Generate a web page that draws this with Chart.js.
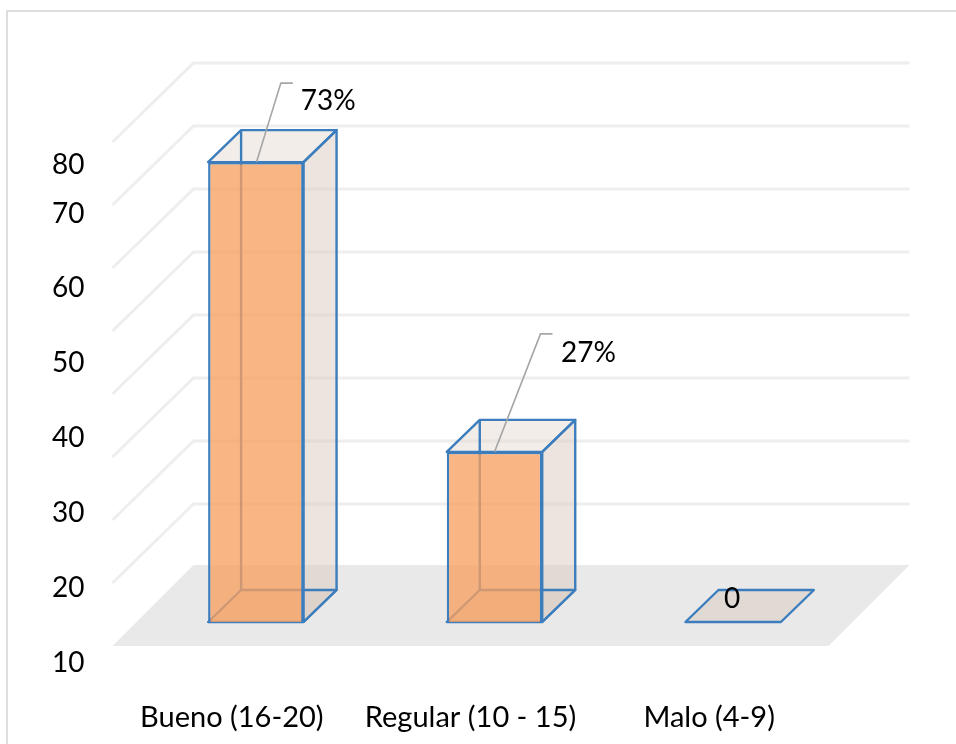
<!DOCTYPE html>
<html>
<head>
<meta charset="utf-8">
<script src="https://cdn.jsdelivr.net/npm/chart.js@4"></script>
<style>
  html, body { margin: 0; padding: 0; background: #fff; overflow: hidden; }
  #wrap { position: relative; width: 956px; height: 744px; overflow: hidden; }
  #frame { position: absolute; left: 6px; top: 10px; width: 950px; height: 734px; border-left: 2px solid #dedede; border-top: 2px solid #dedede; box-sizing: border-box; }
  canvas { position: absolute; left: 0; top: 0; }
</style>
</head>
<body>
<div id="wrap">
  <div id="frame"></div>
  <canvas id="chart" width="956" height="744"></canvas>
</div>
<script>
// Series and axis text
const categories = ['Bueno (16-20)', 'Regular (10 - 15)', 'Malo (4-9)'];
const values = [73, 27, 0];
const valueLabels = ['73%', '27%', '0'];
const tickLabels = ['10', '20', '30', '40', '50', '60', '70', '80'];
const gridValues = [10, 20, 30, 40, 50, 60, 70, 80];

// Axis ticks sit on their own scale, spaced unevenly at the top
const tickStops = [10, 20, 30, 40, 50, 60, 69.8, 76.4];

// Perspective offsets in pixels, relative to the plane of the bars' front faces
const WALL = { dx: 57, dy: -55 };
const FLOOR_BACK = { dx: 57, dy: -57 };
const FRONT = { dx: -24, dy: 24 };
const DEPTH = { dx: 33, dy: -32 };

// Value label placement relative to each bar's top centre
const callouts = [
  { lead: [0.7, 0, 25, -79, 37, -79], text: [72.5, -61] },
  { lead: [0, 0, 46, -118, 58, -118], text: [94, -99] },
  { lead: null, text: [-1, -23] }
];

const FONT = 'Lato, Carlito, sans-serif';
const BLUE = '#3c7dbd';
const EDGE = 2.4;

function poly(ctx, pts) {
  ctx.beginPath();
  pts.forEach((p, i) => (i ? ctx.lineTo(p[0], p[1]) : ctx.moveTo(p[0], p[1])));
  ctx.closePath();
}

// Back wall, left wall, floor, and the translucent rear faces of each box
const scene = {
  id: 'scene',
  beforeDatasetsDraw(chart) {
    const { ctx, chartArea, scales } = chart;
    const y = scales.y;
    const base = y.getPixelForValue(0);
    const left = chartArea.left;
    const right = chartArea.right;

    ctx.save();
    // Floor
    ctx.fillStyle = '#e9e9e9';
    poly(ctx, [
      [left + FRONT.dx, base + FRONT.dy],
      [right + FRONT.dx, base + FRONT.dy],
      [right + FLOOR_BACK.dx, base + FLOOR_BACK.dy],
      [left + FLOOR_BACK.dx, base + FLOOR_BACK.dy]
    ]);
    ctx.fill();

    // Grid lines along both walls
    ctx.strokeStyle = '#eeeeee';
    ctx.lineWidth = 3;
    ctx.lineJoin = 'miter';
    gridValues.forEach(v => {
      const py = y.getPixelForValue(v);
      ctx.beginPath();
      ctx.moveTo(left + FRONT.dx, py + FRONT.dy);
      ctx.lineTo(left + WALL.dx, py + WALL.dy);
      ctx.lineTo(right + WALL.dx, py + WALL.dy);
      ctx.stroke();
    });

    // Rear faces of the boxes
    chart.getDatasetMeta(0).data.forEach(bar => {
      const x0 = bar.x - bar.width / 2;
      const x1 = bar.x + bar.width / 2;
      const top = bar.y;
      const bottom = bar.base;
      const d = DEPTH;

      const floorFace = [[x0, bottom], [x1, bottom], [x1 + d.dx, bottom + d.dy], [x0 + d.dx, bottom + d.dy]];
      const topFace = [[x0, top], [x1, top], [x1 + d.dx, top + d.dy], [x0 + d.dx, top + d.dy]];
      const sideFace = [[x1, top], [x1 + d.dx, top + d.dy], [x1 + d.dx, bottom + d.dy], [x1, bottom]];

      ctx.fillStyle = 'rgba(218, 203, 192, 0.5)';
      poly(ctx, floorFace); ctx.fill();
      if (top !== bottom) {
        poly(ctx, sideFace); ctx.fill();
        ctx.fillStyle = 'rgba(228, 216, 206, 0.45)';
        poly(ctx, topFace); ctx.fill();
      }

      ctx.strokeStyle = BLUE;
      ctx.lineWidth = EDGE;
      ctx.lineJoin = 'round';
      poly(ctx, floorFace); ctx.stroke();
      if (top !== bottom) {
        poly(ctx, topFace); ctx.stroke();
        poly(ctx, sideFace); ctx.stroke();
        ctx.beginPath();
        ctx.moveTo(x0 + d.dx, top + d.dy);
        ctx.lineTo(x0 + d.dx, bottom + d.dy);
        ctx.stroke();
      }
    });
    ctx.restore();
  },
  afterDatasetsDraw(chart) {
    const { ctx } = chart;
    ctx.save();
    chart.getDatasetMeta(0).data.forEach((bar, i) => {
      const c = callouts[i];
      if (c.lead) {
        ctx.strokeStyle = '#a6a6a6';
        ctx.lineWidth = 1.6;
        ctx.beginPath();
        ctx.moveTo(bar.x + c.lead[0], bar.y + c.lead[1]);
        ctx.lineTo(bar.x + c.lead[2], bar.y + c.lead[3]);
        ctx.lineTo(bar.x + c.lead[4], bar.y + c.lead[5]);
        ctx.stroke();
      }
      ctx.fillStyle = '#000';
      ctx.font = '28px ' + FONT;
      ctx.textAlign = 'center';
      ctx.textBaseline = 'middle';
      ctx.fillText(valueLabels[i], bar.x + c.text[0], bar.y + c.text[1]);
    });
    ctx.restore();
  }
};

new Chart(document.getElementById('chart'), {
  type: 'bar',
  data: {
    labels: categories,
    datasets: [{
      data: values,
      backgroundColor: 'rgba(247, 160, 96, 0.78)',
      borderColor: BLUE,
      borderWidth: EDGE,
      categoryPercentage: 1,
      barPercentage: 0.4
    }]
  },
  options: {
    responsive: false,
    animation: false,
    layout: { padding: { top: 62, right: 103.5, bottom: 0, left: 0 } },
    plugins: { legend: { display: false }, tooltip: { enabled: false } },
    scales: {
      x: {
        grid: { display: false, drawTicks: false },
        border: { display: false },
        afterFit(scale) { scale.height = 84; },
        ticks: {
          color: '#000',
          font: { family: FONT, size: 29 },
          padding: 40,
          labelOffset: -24,
          maxRotation: 0,
          autoSkip: false
        }
      },
      y: {
        display: false,
        min: -6.03,
        max: 88.89,
        grid: { display: false }
      },
      yTicks: {
        position: 'left',
        min: 10.35,
        max: 90.08,
        grid: { display: false, drawTicks: false },
        border: { display: false },
        afterFit(scale) {
          scale.width = 136.5;
          scale.paddingTop = 0;
          scale.paddingBottom = 0;
        },
        afterBuildTicks(scale) { scale.ticks = tickStops.map(v => ({ value: v })); },
        ticks: {
          color: '#000',
          font: { family: FONT, size: 28 },
          padding: 52,
          autoSkip: false,
          callback(value, index) { return tickLabels[index]; }
        }
      }
    }
  },
  plugins: [scene]
});
</script>
</body>
</html>
